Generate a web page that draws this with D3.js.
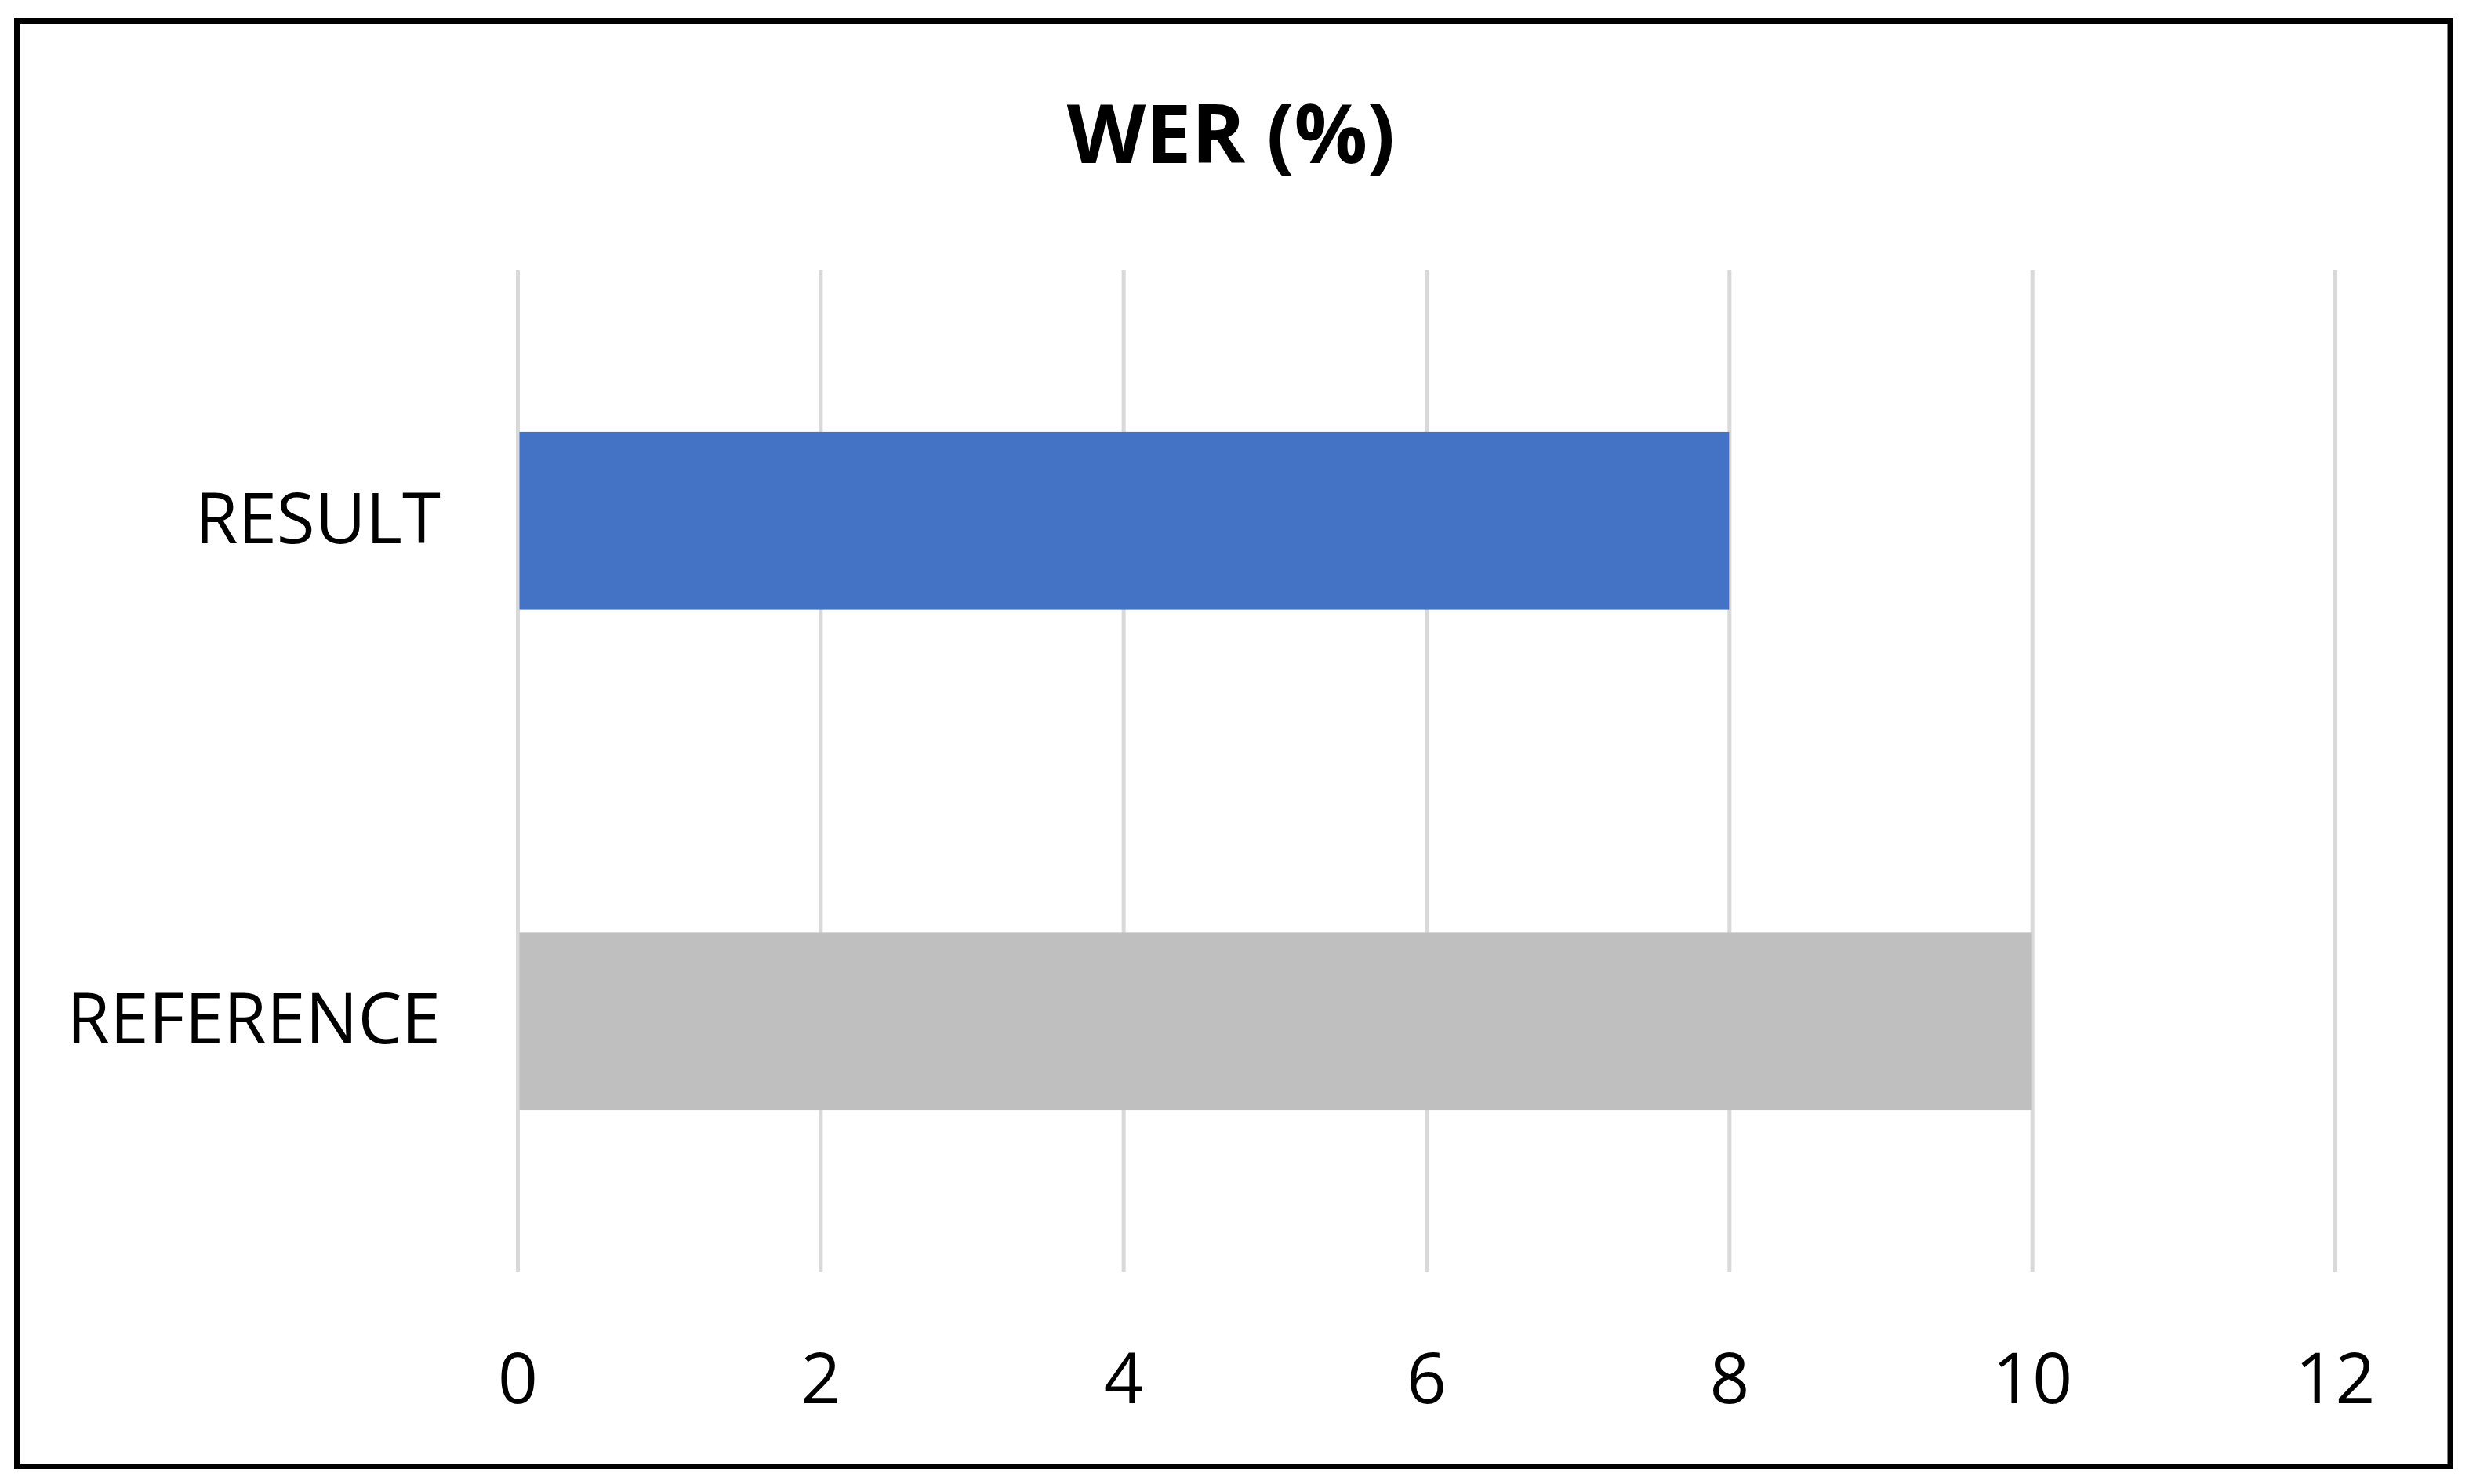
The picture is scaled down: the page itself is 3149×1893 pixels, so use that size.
<!DOCTYPE html>
<meta charset="utf-8">
<head>
  <style>
    body { margin: 0; background: #fff; }
    .title {
      font-family: "Open Sans", sans-serif;
      font-weight: bold;
      font-size: 104px;
      fill: #000;
    }
    .axis text {
      font-family: "Open Sans", sans-serif;
      font-size: 89px;
      fill: #000;
    }
    .grid line {
      stroke: #d9d9d9;
      stroke-width: 5px;
    }
  </style>
  <script src="https://cdn.jsdelivr.net/npm/d3@7"></script>
</head>
<body>
  <svg width="3149" height="1893"></svg>
  <script>

    // data
    var categories = ["RESULT", "REFERENCE"];
    var werValues = [8, 10];
    var barColors = ["#4472c4", "#bfbfbf"];
    var xTicks = [0, 2, 4, 6, 8, 10, 12];
    var chartTitle = "WER (%)";

    var svg = d3.select("svg"),
    width = +svg.attr("width"),
    height = +svg.attr("height");

    var margin = {top: 345, right: 171, bottom: 271, left: 660};
    var plotW = width - margin.left - margin.right,
    plotH = height - margin.top - margin.bottom;

    svg.append("rect")
    .attr("width", width)
    .attr("height", height)
    .attr("fill", "#fff");

    // outer frame
    svg.append("rect")
    .attr("x", 21.5)
    .attr("y", 26.5)
    .attr("width", 3103.5)
    .attr("height", 1844)
    .attr("fill", "none")
    .attr("stroke", "#000")
    .attr("stroke-width", 7);

    var x = d3.scaleLinear()
    .domain([0, 12])
    .range([0, plotW]);

    // excel style gap width 182%
    var y = d3.scaleBand()
    .domain(categories)
    .range([0, plotH])
    .paddingInner(0.645)
    .paddingOuter(0.3225);

    var g = svg.append("g")
    .attr("transform", "translate(" + margin.left + "," + margin.top + ")");

    //gridlines
    g.append("g")
    .attr("class", "grid")
    .call(d3.axisBottom(x).tickValues(xTicks).tickSize(plotH).tickFormat(""))
    .call(function(s) { s.select(".domain").remove(); });

    //bars
    g.selectAll("rect.bar")
    .data(categories)
    .enter().append("rect")
    .attr("class", "bar")
    .attr("x", x(0) + 2.5)
    .attr("y", function(d) { return y(d); })
    .attr("width", function(d, i) { return x(werValues[i]) - x(0) - 2.5; })
    .attr("height", y.bandwidth())
    .attr("fill", function(d, i) { return barColors[i]; });

    //x axis labels
    var xAxis = g.append("g")
    .attr("class", "axis")
    .attr("transform", "translate(0," + plotH + ")")
    .call(d3.axisBottom(x).tickValues(xTicks).tickSize(0).tickPadding(168));
    xAxis.select(".domain").remove();
    xAxis.selectAll("text").attr("dy", "0");

    //y axis labels
    var yAxis = g.append("g")
    .attr("class", "axis")
    .call(d3.axisLeft(y).tickSize(0).tickPadding(98));
    yAxis.select(".domain").remove();

    svg.append("text")
    .attr("class", "title")
    .attr("x", 1570)
    .attr("y", 208)
    .attr("text-anchor", "middle")
    .text(chartTitle);

  </script>
</body>
